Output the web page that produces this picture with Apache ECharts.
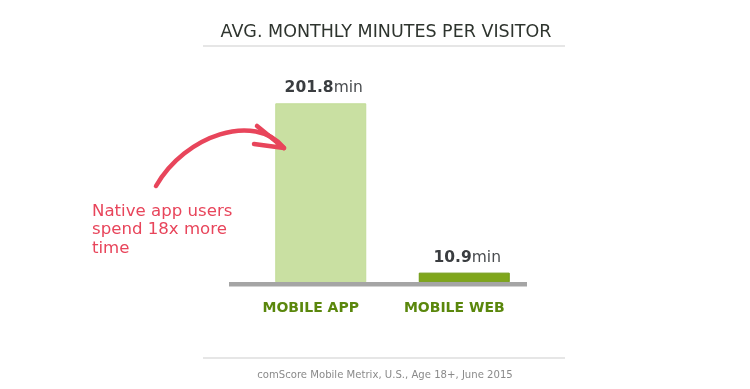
<!DOCTYPE html>
<html><head><meta charset="utf-8">
<script src="https://cdn.jsdelivr.net/npm/echarts@6/dist/echarts.min.js"></script>
<style>html,body{margin:0;padding:0;background:#fff}#c{width:750px;height:389px}</style>
</head><body><div id="c"></div>
<script>
var categories = ['MOBILE APP', 'MOBILE WEB'];
var minutes = [201.8, 10.9];
var barColors = ['#c9e0a2', '#7fa61b'];
var barBorders = ['#c2dc98', '#6f9812'];
var titleText = 'AVG. MONTHLY MINUTES PER VISITOR';
var sourceText = 'comScore Mobile Metrix, U.S., Age 18+, June 2015';
var noteLines = ['Native app users', 'spend 18x more', 'time'];

var FONT = 'DejaVu Sans';
var chart = echarts.init(document.getElementById('c'), null, {renderer: 'canvas'});
chart.setOption({
  backgroundColor: '#fff',
  animation: false,
  grid: {left: 249, right: 750 - 536, top: 103.3, bottom: 389 - 282.3},
  xAxis: {
    type: 'category', data: categories,
    axisLine: {show: false}, axisTick: {show: false},
    axisLabel: {fontFamily: FONT, fontSize: 14, fontWeight: 'bold', color: '#5a870c', margin: 19, padding: [0, 20, 0, 0]}
  },
  yAxis: {type: 'value', min: 0, max: 'dataMax', show: false, splitLine: {show: false}},
  series: [{
    type: 'bar', barWidth: 91,
    data: minutes.map(function (v, i) { return {value: v, itemStyle: {color: barColors[i], borderColor: barBorders[i], borderWidth: 1}}; }),
    label: {
      show: true, position: 'top', distance: 7,
      padding: [0, 0, 0, 6],
      formatter: function (p) { return '{b|' + p.value + '}{r|min}'; },
      rich: {
        b: {fontFamily: FONT, fontSize: 15.5, fontWeight: 'bold', color: '#3a3d40'},
        r: {fontFamily: FONT, fontSize: 15.5, fontWeight: 'normal', color: '#4a4d50'}
      }
    }
  }],
  graphic: [
    {type: 'text', x: 386, y: 23, z: 100, style: {text: titleText, align: 'center', fontFamily: FONT, fontSize: 17.5, fill: '#2e342e'}},
    {type: 'text', x: 385, y: 370, z: 100, style: {text: sourceText, align: 'center', fontFamily: FONT, fontSize: 10.1, fill: '#8a8a8a'}},
    {type: 'rect', shape: {x: 203, y: 45, width: 362, height: 2}, style: {fill: '#e6e6e6'}, silent: true},
    {type: 'rect', shape: {x: 203, y: 357, width: 362, height: 2}, style: {fill: '#e6e6e6'}, silent: true},
    {type: 'rect', shape: {x: 229, y: 282, width: 298, height: 4.5}, style: {fill: '#a5a5a5'}, z: 10, silent: true},
    {type: 'text', x: 92, y: 202, z: 100, style: {text: noteLines.join('\n'), fontFamily: FONT, fontSize: 16.6, lineHeight: 18.5, fill: '#e8455b'}},
    {type: 'bezierCurve', z: 100, shape: {x1: 156, y1: 186, cpx1: 185, cpy1: 135, cpx2: 255, cpy2: 112, x2: 284, y2: 148}, style: {fill: 'none', stroke: '#e8455b', lineWidth: 4.5, lineCap: 'round'}},
    {type: 'polyline', z: 100, shape: {points: [[257, 126], [284, 148], [254, 144]]}, style: {fill: 'none', stroke: '#e8455b', lineWidth: 4.5, lineCap: 'round', lineJoin: 'round'}}
  ]
});
</script></body></html>
